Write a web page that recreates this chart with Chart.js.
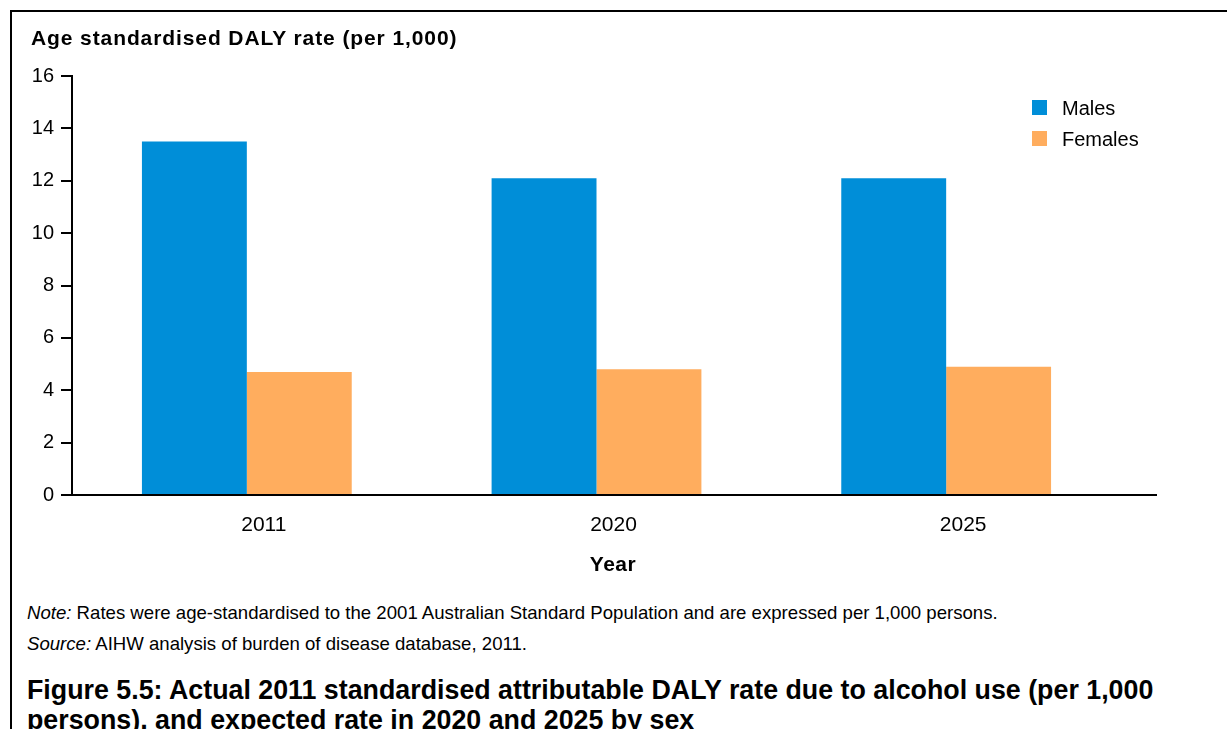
<!DOCTYPE html>
<html>
<head>
<meta charset="utf-8">
<script src="https://cdn.jsdelivr.net/npm/chart.js@4.4.0/dist/chart.umd.min.js"></script>
<style>
  body { margin: 0; background: #fff; font-family: "Liberation Sans", Arial, sans-serif; color: #000; }
  #page { position: relative; width: 1227px; height: 729px; overflow: hidden; }
  #frame { position: absolute; left: 10px; top: 10px; width: 1300px; height: 800px; border: 2px solid #000; box-sizing: border-box; }
  #wrap { position: absolute; left: 0; top: 0; width: 1227px; height: 590px; }
  #ytitle { position: absolute; left: 31px; top: 26px; font-weight: bold; font-size: 21px; letter-spacing: 0.9px; }
  #xtitle { position: absolute; left: 513px; width: 200px; top: 552px; text-align: center; font-weight: bold; font-size: 21px; letter-spacing: 0.5px; }
  #legend { position: absolute; left: 1032px; top: 97px; font-size: 20px; }
  .item { height: 31px; display: flex; align-items: flex-start; }
  .swatch { width: 15px; height: 15px; margin-top: 3px; margin-right: 15px; }
  .note { position: absolute; left: 27px; font-size: 18.6px; }
  #caption { position: absolute; left: 27px; top: 675px; font-weight: bold; font-size: 26.8px; line-height: 30px; }
</style>
</head>
<body>
<div id="page">
  <div id="frame"></div>
  <div id="wrap"><canvas id="chart"></canvas></div>
  <div id="ytitle">Age standardised DALY rate (per 1,000)</div>
  <div id="xtitle">Year</div>
  <div id="legend"></div>
  <div class="note" style="top:602px"><i>Note:</i> Rates were age-standardised to the 2001 Australian Standard Population and are expressed per 1,000 persons.</div>
  <div class="note" style="top:633px"><i>Source:</i> AIHW analysis of burden of disease database, 2011.</div>
  <div id="caption">Figure 5.5: Actual 2011 standardised attributable DALY rate due to alcohol use (per 1,000<br>persons), and expected rate in 2020 and 2025 by sex</div>
</div>
<script>
const years = ['2011', '2020', '2025'];
const seriesNames = ['Males', 'Females'];
const malesRate = [13.5, 12.1, 12.1];
const femalesRate = [4.7, 4.8, 4.9];
const seriesColors = ['#008ED8', '#FFAD5E'];

const yMin = 0;
const yMax = 16;
const yStep = 2;

// x axis line runs past the last category, like the original
const extendedAxis = {
  id: 'extendedAxis',
  afterDraw(chart) {
    const ctx = chart.ctx;
    const area = chart.chartArea;
    ctx.save();
    ctx.strokeStyle = '#000';
    ctx.lineWidth = 2;
    ctx.beginPath();
    ctx.moveTo(area.left, area.bottom);
    ctx.lineTo(area.right + 36, area.bottom);
    ctx.stroke();
    ctx.restore();
  }
};

const datasets = [malesRate, femalesRate].map((values, i) => ({
  label: seriesNames[i],
  data: values,
  backgroundColor: seriesColors[i],
  borderWidth: 0,
  barPercentage: 1,
  categoryPercentage: 0.6
}));

// html legend built from the datasets
const legendEl = document.getElementById('legend');
datasets.forEach(ds => {
  const item = document.createElement('div');
  item.className = 'item';
  item.innerHTML = `<div class="swatch" style="background:${ds.backgroundColor}"></div><span>${ds.label}</span>`;
  legendEl.appendChild(item);
});

const fontFamily = '"Liberation Sans", Arial, sans-serif';

new Chart(document.getElementById('chart'), {
  type: 'bar',
  data: { labels: years, datasets: datasets },
  plugins: [extendedAxis],
  options: {
    responsive: true,
    maintainAspectRatio: false,
    animation: false,
    layout: { padding: { left: 12, top: 76, right: 106, bottom: 16 } },
    plugins: {
      legend: { display: false },
      tooltip: { enabled: false }
    },
    scales: {
      x: {
        grid: { display: false, drawTicks: false },
        border: { display: false },
        ticks: { color: '#000', font: { family: fontFamily, size: 21 }, padding: 18, labelOffset: 17 },
        afterFit: scale => { scale.height = 79; }
      },
      y: {
        min: yMin,
        max: yMax,
        grid: { drawOnChartArea: false, color: '#000', lineWidth: 2, tickLength: 11 },
        border: { color: '#000', width: 2 },
        ticks: { stepSize: yStep, color: '#000', font: { family: fontFamily, size: 20 }, padding: 7 },
        afterFit: scale => { scale.width = 60; }
      }
    }
  }
});
</script>
</body>
</html>
